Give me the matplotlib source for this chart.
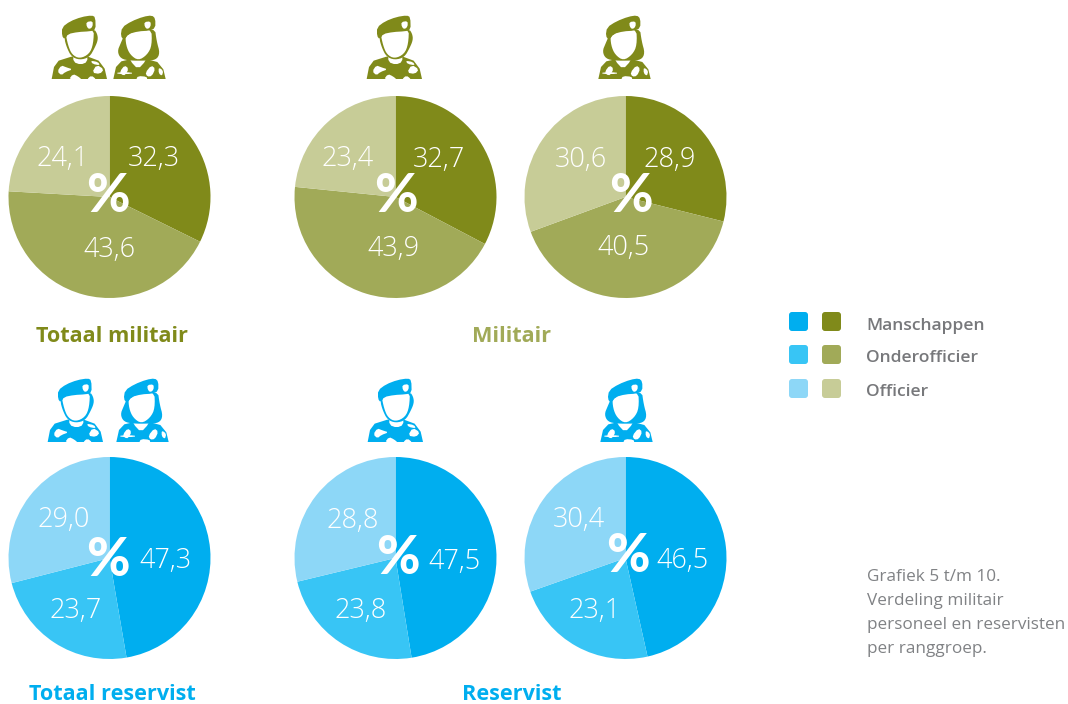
import matplotlib
matplotlib.use("Agg")
import matplotlib.pyplot as plt
from matplotlib.patches import Polygon, FancyBboxPatch

W, H = 1068, 704
rank_names = ["Manschappen", "Onderofficier", "Officier"]
pie_titles = ["Totaal militair", "Militair", "Totaal reservist", "Reservist"]
totaal_militair = [32.3, 43.6, 24.1]
militair_man = [32.7, 43.9, 23.4]
militair_vrouw = [28.9, 40.5, 30.6]
totaal_reservist = [47.3, 23.7, 29.0]
reservist_man = [47.5, 23.8, 28.8]
reservist_vrouw = [46.5, 23.1, 30.4]
note_lines = ["Grafiek 5 t/m 10.", "Verdeling militair", "personeel en reservisten", "per ranggroep."]

OLIVE = ["#808A1A", "#A1AA58", "#C7CC97"]
BLUE = ["#00AEEF", "#38C5F5", "#8DD7F7"]
R = 101
FONT = "Open Sans"

pies = [
    (totaal_militair, OLIVE, (109.5, 197), [(154, 159), (110, 250), (63, 159)], (108, 197)),
    (militair_man, OLIVE, (395.5, 197), [(439, 160), (394, 249), (348, 159)], (396, 196)),
    (militair_vrouw, OLIVE, (625.5, 197), [(670, 160), (624, 248), (581, 160)], (631, 197)),
    (totaal_reservist, BLUE, (109.5, 558), [(166, 561), (76, 611), (64, 520)], (108, 561)),
    (reservist_man, BLUE, (395.5, 558), [(455, 562), (361, 611), (353, 521)], (398, 558)),
    (reservist_vrouw, BLUE, (625.5, 558), [(683, 561), (595, 611), (579, 520)], (628, 556)),
]

fig = plt.figure(figsize=(W / 100, H / 100), dpi=100, facecolor="white")

for values, cols, (cx, cy), _, _ in pies:
    ax = fig.add_axes([(cx - R) / W, 1 - (cy + R) / H, 2 * R / W, 2 * R / H])
    ax.pie(values, colors=cols, startangle=90, counterclock=False, radius=1,
           wedgeprops=dict(linewidth=0))
    ax.set_xlim(-1, 1)
    ax.set_ylim(-1, 1)
    ax.set_aspect("equal")
    ax.axis("off")

ov = fig.add_axes([0, 0, 1, 1], zorder=5)
ov.set_xlim(0, W)
ov.set_ylim(H, 0)
ov.axis("off")
ov.patch.set_alpha(0)

for values, cols, _, label_xy, pct_xy in pies:
    for v, (x, y) in zip(values, label_xy):
        ov.text(x, y, f"{v:.1f}".replace(".", ","), ha="center", va="center",
                color="white", family=FONT, weight="light", fontsize=19.5)
    ov.text(pct_xy[0], pct_xy[1], "%", ha="center", va="center", color="white",
            family="Lato", weight="black", fontsize=38)


def smooth(pts, n=2):
    for _ in range(n):
        out = []
        for i, (x0, y0) in enumerate(pts):
            x1, y1 = pts[(i + 1) % len(pts)]
            out.append((0.75 * x0 + 0.25 * x1, 0.75 * y0 + 0.25 * y1))
            out.append((0.25 * x0 + 0.75 * x1, 0.25 * y0 + 0.75 * y1))
        pts = out
    return pts


# soldier icons, outlines in units of 1/3 px from an origin
MALE = dict(
    origin=(48, 12),
    beret=[(42, 72), (42, 46), (66, 28), (100, 15), (132, 10), (142, 16), (143, 54), (125, 58), (90, 60), (60, 66), (50, 82)],
    head=[(48, 76), (60, 60), (138, 50), (148, 66), (150, 84), (140, 108), (124, 136), (95, 144), (70, 134), (56, 106)],
    face=[(52, 60), (138, 44), (136, 96), (124, 126), (95, 140), (72, 128), (60, 100)],
    body=[(11, 201), (18, 165), (32, 146), (70, 134), (120, 134), (152, 146), (170, 170), (177, 201)],
    neck=[(76, 124), (118, 124), (118, 150), (98, 158), (76, 150)],
    camo=[[(28, 178), (40, 160), (55, 166), (74, 172), (52, 180), (40, 190)],
          [(132, 182), (146, 158), (168, 172), (156, 186)],
          [(62, 203), (75, 186), (90, 193), (102, 203)],
          [(116, 203), (130, 190), (146, 203)],
          [(128, 146), (150, 150), (156, 160), (134, 156)]],
    badge=[(115, 30), (134, 27), (134, 44), (124, 52), (116, 44)],
)
FEMALE = dict(
    origin=(110, 12),
    beret=[(32, 72), (36, 46), (64, 28), (100, 14), (126, 10), (136, 20), (136, 48), (118, 56), (85, 58), (55, 66), (42, 84)],
    head=[(32, 94), (44, 66), (134, 44), (140, 88), (150, 124), (138, 144), (105, 146), (60, 146), (32, 140), (22, 118)],
    face=[(46, 66), (124, 44), (126, 100), (112, 128), (85, 146), (60, 128), (48, 100)],
    body=[(10, 201), (18, 165), (34, 148), (60, 142), (112, 142), (142, 150), (160, 172), (167, 201)],
    neck=[(60, 130), (108, 130), (108, 146), (84, 172), (60, 146)],
    camo=[[(30, 178), (44, 160), (56, 170), (46, 190), (34, 188)],
          [(106, 182), (124, 160), (136, 170), (126, 192), (112, 194)],
          [(146, 166), (160, 176), (156, 192), (146, 184)],
          [(22, 181), (66, 181), (66, 186), (22, 186)],
          [(78, 203), (84, 192), (110, 194), (112, 203)]],
    badge=[(103, 30), (122, 28), (122, 44), (112, 52), (104, 44)],
)


def icon(shape, dx, dy, col):
    ox, oy = shape["origin"]

    def P(pts, c, z, rounds=2):
        ov.add_patch(Polygon([(x / 3 + ox + dx, y / 3 + oy + dy) for x, y in smooth(pts, rounds)], closed=True,
                             facecolor=c, edgecolor="none", zorder=z))
    P(shape["body"], col, 1.5, 0)
    P(shape["neck"], "white", 1.8, 1)
    P(shape["head"], col, 2, 2)
    P(shape["face"], "white", 3, 2)
    P(shape["beret"], col, 3.2, 1)
    P(shape["badge"], "white", 3.5, 1)
    for blob in shape["camo"]:
        P(blob, "white", 1.9, 1)


for shape, dx, dy, col in [
    (MALE, 0, 0, OLIVE[0]), (FEMALE, 0, 0, OLIVE[0]),
    (MALE, 315, 0, OLIVE[0]), (FEMALE, 485, 0, OLIVE[0]),
    (MALE, -4, 363, BLUE[0]), (FEMALE, 3, 363, BLUE[0]),
    (MALE, 316, 363, BLUE[0]), (FEMALE, 487, 363, BLUE[0]),
]:
    icon(shape, dx, dy, col)

for title, (x, y), col in zip(pie_titles, [(112, 336), (512, 336), (112, 694), (512, 694)],
                              [OLIVE[0], OLIVE[1], BLUE[0], BLUE[0]]):
    ov.text(x, y, title, ha="center", va="center", color=col, family=FONT, weight="bold", fontsize=15.6)

for i, (name, ytop, yt) in enumerate(zip(rank_names, [312, 345, 379], [326, 358, 392])):
    for x0, cols in [(789, BLUE), (822, OLIVE)]:
        ov.add_patch(FancyBboxPatch((x0 + 2, ytop + 2), 15, 15, boxstyle="round,pad=2,rounding_size=3",
                                    facecolor=cols[i], edgecolor="none"))
    ov.text(866, yt, name, ha="left", va="center", color="#77787B", family=FONT, weight="semibold", fontsize=12.6)

for line, y in zip(note_lines, [577, 601, 625, 649]):
    ov.text(867, y, line, ha="left", va="center", color="#808285", family=FONT, fontsize=12.3)

fig.savefig("out.png", dpi=100)
